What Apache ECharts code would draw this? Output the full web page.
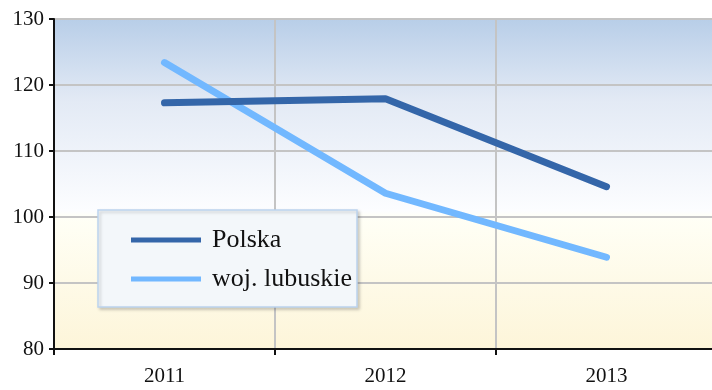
<!DOCTYPE html>
<html>
<head>
<meta charset="utf-8">
<script src="https://cdn.jsdelivr.net/npm/echarts@6/dist/echarts.min.js"></script>
<style>
  html, body { margin: 0; padding: 0; background: #ffffff; overflow: hidden; }
  #chart { width: 712px; height: 390px; }
</style>
</head>
<body>
<div id="chart"></div>
<script>
// Index values per year, two series
const years = ['2011', '2012', '2013'];
const polska = [117.3, 117.9, 104.6];
const lubuskie = [123.4, 103.6, 93.9];
const seriesNames = ['Polska', 'woj. lubuskie'];
const seriesColors = ['#3466A9', '#72B8FF'];

const serif = '"Liberation Serif", "DejaVu Serif", serif';

const chart = echarts.init(document.getElementById('chart'));

chart.setOption({
  animation: false,
  backgroundColor: '#ffffff',
  grid: {
    left: 54, width: 663, top: 19, bottom: 41,
    outerBoundsMode: 'none',
    containLabel: false,
    show: true,
    borderWidth: 0,
    backgroundColor: {
      type: 'linear', x: 0, y: 0, x2: 0, y2: 1,
      colorStops: [
        { offset: 0, color: '#B8CEE8' },
        { offset: 0.25, color: '#E3EAF5' },
        { offset: 0.58, color: '#FCFDFF' },
        { offset: 0.6, color: '#FFFFF6' },
        { offset: 1, color: '#FDF5D9' }
      ]
    }
  },
  xAxis: {
    type: 'category',
    data: years,
    boundaryGap: true,
    axisLine: { lineStyle: { color: '#111111', width: 2 } },
    axisTick: { show: true, length: 6, inside: false, lineStyle: { color: '#111111', width: 2 } },
    axisLabel: { color: '#111111', fontFamily: serif, fontSize: 21, margin: 17 },
    splitLine: { show: true, lineStyle: { color: '#C4C4C4', width: 2 } }
  },
  yAxis: {
    type: 'value',
    min: 80, max: 130, interval: 10,
    axisLine: { show: true, lineStyle: { color: '#111111', width: 2 } },
    axisTick: { show: true, length: 5, lineStyle: { color: '#111111', width: 2 } },
    axisLabel: { color: '#111111', fontFamily: serif, fontSize: 21, margin: 10 },
    splitLine: { show: true, lineStyle: { color: '#C4C4C4', width: 2 } }
  },
  legend: {
    data: seriesNames,
    orient: 'vertical',
    left: 131, top: 227,
    padding: 0,
    itemWidth: 70, itemHeight: 5, itemGap: 13,
    icon: 'rect',
    z: 10,
    textStyle: { color: '#111111', fontFamily: serif, fontSize: 26, lineHeight: 25, padding: [0, 0, 0, 6] }
  },
  graphic: [{
    type: 'rect',
    shape: { x: 98, y: 210, width: 259, height: 97 },
    style: {
      fill: '#F3F7FA', stroke: '#BCD3EE', lineWidth: 1.5,
      shadowBlur: 3, shadowOffsetX: 2, shadowOffsetY: 2, shadowColor: 'rgba(0,0,0,0.18)'
    },
    z: 5
  }],
  series: [
    {
      name: seriesNames[0], type: 'line', data: polska,
      symbol: 'none', color: seriesColors[0],
      lineStyle: { width: 7, color: seriesColors[0], cap: 'round', join: 'round' },
      z: 3
    },
    {
      name: seriesNames[1], type: 'line', data: lubuskie,
      symbol: 'none', color: seriesColors[1],
      lineStyle: { width: 7, color: seriesColors[1], cap: 'round', join: 'round' },
      z: 2
    }
  ]
});
</script>
</body>
</html>
